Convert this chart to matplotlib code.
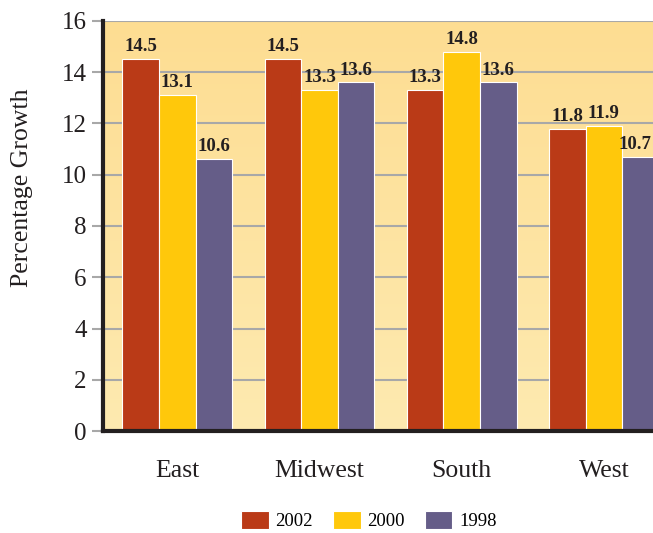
import numpy as np
import matplotlib.pyplot as plt
from matplotlib.colors import LinearSegmentedColormap
from matplotlib.transforms import offset_copy

# Regional growth by survey year
regions = ['East', 'Midwest', 'South', 'West']
years = ['2002', '2000', '1998']
growth_2002 = [14.5, 14.5, 13.3, 11.8]
growth_2000 = [13.1, 13.3, 14.8, 11.9]
growth_1998 = [10.6, 13.6, 13.6, 10.7]
yticks = [0, 2, 4, 6, 8, 10, 12, 14, 16]

colors = ['#BA3A17', '#FFC80B', '#655D88']
serif = ['Liberation Serif', 'DejaVu Serif']
plt.rcParams['font.family'] = serif

fig = plt.figure(figsize=(6.53, 5.33), dpi=100)
ax = fig.add_axes([0.158, 0.191, 0.842, 0.770])

# warm vertical gradient behind the bars
bg = LinearSegmentedColormap.from_list('bg', ['#FEEAB0', '#FDDD92'])
grad = np.linspace(0, 1, 256).reshape(-1, 1)
ax.imshow(grad, cmap=bg, aspect='auto', origin='lower',
          extent=[-0.521, 3.345, 0, 16], zorder=0)

x = np.arange(len(regions))
width = 0.257
series = [growth_2002, growth_2000, growth_1998]
labels = []
for i, (vals, c, yr) in enumerate(zip(series, colors, years)):
    pos = x + (i - 1) * width
    bars = ax.bar(pos, vals, width, color=c, edgecolor='white', linewidth=0.8,
                  label=yr, zorder=3)
    for b, v in zip(bars, vals):
        t = ax.text(b.get_x() + b.get_width() / 2, v + 0.15, f'{v:.1f}',
                    ha='center', va='bottom', fontsize=13.5, fontweight='bold',
                    color='#231F20', zorder=4)
        labels.append(t)

ax.set_xlim(-0.521, 3.345)
ax.set_ylim(0, 16)
ax.set_yticks(yticks)
ax.set_yticklabels([str(t) for t in yticks], fontsize=18, color='#231F20')
ax.set_xticks(x)
ax.set_xticklabels(regions, fontsize=18.5, color='#231F20')
ax.tick_params(axis='x', length=0, pad=21)
ax.tick_params(axis='y', length=8, width=1.5, color='#A8A8A8', pad=4)

ax.grid(axis='y', color='#A8A8A8', linewidth=1.5, zorder=1)
ax.set_axisbelow(True)
for side in ['top', 'right']:
    ax.spines[side].set_visible(False)
for side in ['left', 'bottom']:
    ax.spines[side].set_linewidth(3)
    ax.spines[side].set_color('#231F20')
    ax.spines[side].set_zorder(5)

fig.text(0.034, 0.647, 'Percentage Growth', rotation=90, ha='center',
         va='center', fontsize=18.5, color='#231F20')

fig.legend(loc='center', bbox_to_anchor=(0.565, 0.024), ncol=3, frameon=False,
           fontsize=13.5, handlelength=1.45, handleheight=1.1, handletextpad=0.35,
           columnspacing=1.1)

# pull any value label back inside the right edge of the figure
fig.canvas.draw()
renderer = fig.canvas.get_renderer()
fig_w = fig.bbox.width
for t in labels:
    ext = t.get_window_extent(renderer)
    over = ext.x1 - (fig_w - 1)
    if over > 0:
        t.set_transform(offset_copy(t.get_transform(), fig=fig,
                                    x=-over * 72 / fig.dpi, units='points'))

fig.savefig('out.png', dpi=100)
